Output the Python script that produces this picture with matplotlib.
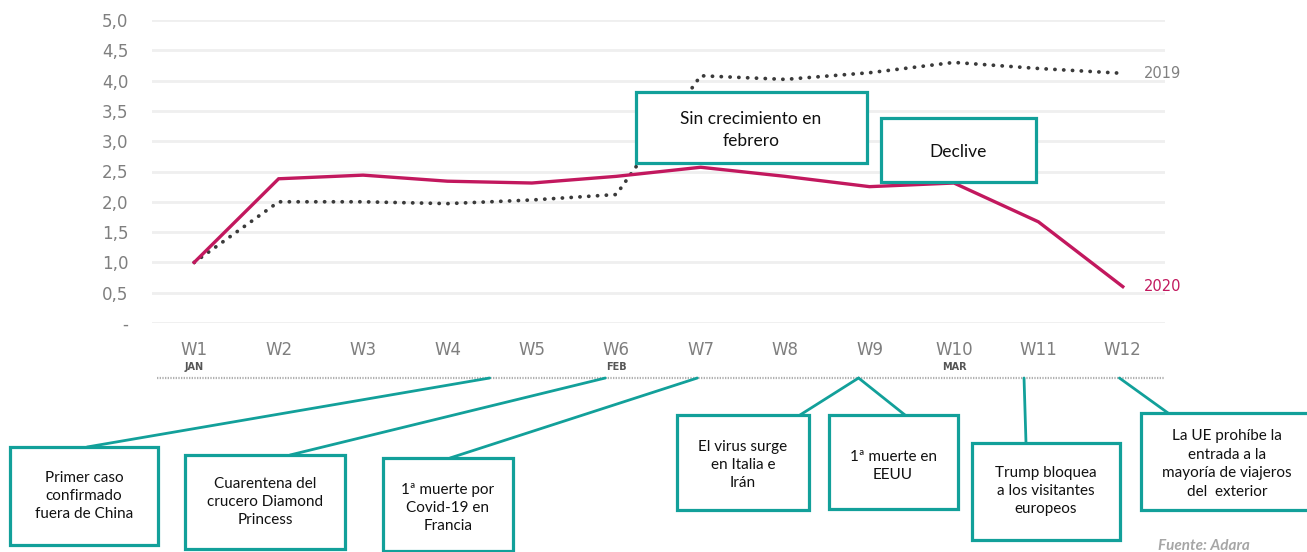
import matplotlib.pyplot as plt
import matplotlib.transforms as mtransforms
from matplotlib.patches import Rectangle

# weekly index (W1 = 1.0)
weeks = ['W1', 'W2', 'W3', 'W4', 'W5', 'W6', 'W7', 'W8', 'W9', 'W10', 'W11', 'W12']
v2020 = [1.0, 2.38, 2.44, 2.34, 2.31, 2.42, 2.57, 2.42, 2.25, 2.31, 1.67, 0.60]
v2019 = [1.0, 2.0, 2.0, 1.97, 2.03, 2.12, 4.08, 4.02, 4.13, 4.30, 4.20, 4.12]
months = ['JAN', 'FEB', 'MAR']
month_pos = [0, 5, 9]

yticks = [0, 0.5, 1.0, 1.5, 2.0, 2.5, 3.0, 3.5, 4.0, 4.5, 5.0]
ylabels = ['-', '0,5', '1,0', '1,5', '2,0', '2,5', '3,0', '3,5', '4,0', '4,5', '5,0']

# events along the timeline (week position) and their notes
event_pos = [3.5, 4.87, 5.96, 7.87, 7.87, 9.83, 10.96]
event_text = [
    'Primer caso\nconfirmado\nfuera de China',
    'Cuarentena del\ncrucero Diamond\nPrincess',
    '1ª muerte por\nCovid-19 en\nFrancia',
    'El virus surge\nen Italia e\nIrán',
    '1ª muerte en\nEEUU',
    'Trump bloquea\na los visitantes\neuropeos',
    'La UE prohíbe la\nentrada a la\nmayoría de viajeros\ndel  exterior',
]

W, H = 1307, 552
TEAL = '#12a09a'
MAGENTA = '#c2185e'


def fx(px):
    return px / W


def fy(py):
    return 1 - py / H


fig = plt.figure(figsize=(W / 100, H / 100), dpi=100)
ax = fig.add_axes([fx(152), fy(323), fx(1165) - fx(152), fy(20) - fy(323)])

x = list(range(len(weeks)))
ax.plot(x, v2019, color='#3a3a3a', lw=2.7, linestyle=(0, (0.05, 2.3)),
        dash_capstyle='round', solid_capstyle='round', clip_on=False, zorder=3)
ax.plot(x, v2020, color=MAGENTA, lw=2.4, solid_joinstyle='miter', clip_on=False, zorder=4)

ax.annotate('2019', xy=(x[-1], v2019[-1]), xytext=(15, 0), textcoords='offset points',
            va='center', ha='left', fontsize=10.5, color='#808080')
ax.annotate('2020', xy=(x[-1], v2020[-1]), xytext=(15, 0), textcoords='offset points',
            va='center', ha='left', fontsize=10.5, color=MAGENTA)

ax.set_xlim(-0.5, 11.5)
ax.set_ylim(0, 5)
ax.set_yticks(yticks)
ax.set_yticklabels(ylabels)
ax.set_xticks(x)
ax.set_xticklabels(weeks)
ax.tick_params(axis='y', length=0, pad=17, labelsize=12, labelcolor='#7f7f7f')
ax.tick_params(axis='x', length=0, pad=13, labelsize=12, labelcolor='#7f7f7f')
for s in ax.spines.values():
    s.set_visible(False)
ax.grid(axis='y', color='#efefef', lw=2)
ax.set_axisbelow(True)

# month markers and timeline strip under the x axis
xtrans = mtransforms.blended_transform_factory(ax.transData, ax.transAxes)
sep_y = (323 - 378) / 303
for m, p in zip(months, month_pos):
    ax.text(p, (323 - 367) / 303, m, transform=xtrans, ha='center', va='center',
            fontsize=7, fontweight='bold', color='#555555')
ax.plot([-0.44, 11.5], [sep_y, sep_y], transform=xtrans, color='#b0b0b0',
        lw=1.6, linestyle=(0, (0.6, 0.6)), clip_on=False)

# note boxes (pixel layout) and connectors to the timeline
boxes = [(10, 447, 158, 545), (185, 455, 345, 549), (383, 458, 513, 551),
         (677, 415, 809, 510), (829, 415, 958, 509), (972, 443, 1120, 540),
         (1141, 413, 1313, 510)]
anchors = [(87, 447), (290, 455), (450, 458), (800, 415), (905, 415),
           (1026, 443), (1168, 413)]
text_y = [496, 502, 508, 465, 466, 491, 464]
text_x = [84, 265, 448, 743, 893, 1046, 1227]

for pos, (axp, ayp) in zip(event_pos, anchors):
    ax.annotate('', xy=(pos, sep_y), xycoords=xtrans,
                xytext=(fx(axp), fy(ayp)), textcoords='figure fraction',
                arrowprops=dict(arrowstyle='-', color=TEAL, lw=2,
                                shrinkA=0, shrinkB=0))


def note_box(x0, y0, x1, y1, txt, tx, ty, size, spacing):
    fig.add_artist(Rectangle((fx(x0), fy(y1)), fx(x1) - fx(x0), fy(y0) - fy(y1),
                             transform=fig.transFigure, facecolor='white',
                             edgecolor=TEAL, lw=2.3, zorder=5))
    fig.text(fx(tx), fy(ty), txt, ha='center', va='center', fontsize=size,
             family='Lato', color='#111111', linespacing=spacing, zorder=6)


for (x0, y0, x1, y1), txt, tx, ty in zip(boxes, event_text, text_x, text_y):
    note_box(x0, y0, x1, y1, txt, tx, ty, 11, 1.4)

note_box(636, 92, 867, 163, 'Sin crecimiento en\nfebrero', 751, 130, 12.5, 1.45)
note_box(881, 118, 1036, 182, 'Declive', 958, 152, 12.5, 1.4)

fig.text(fx(1158), fy(539), 'Fuente: Adara', ha='left', va='top', fontsize=11,
         style='italic', fontweight='bold', color='#a6a6a6', family='Lato')

fig.savefig('out.png', dpi=100)
